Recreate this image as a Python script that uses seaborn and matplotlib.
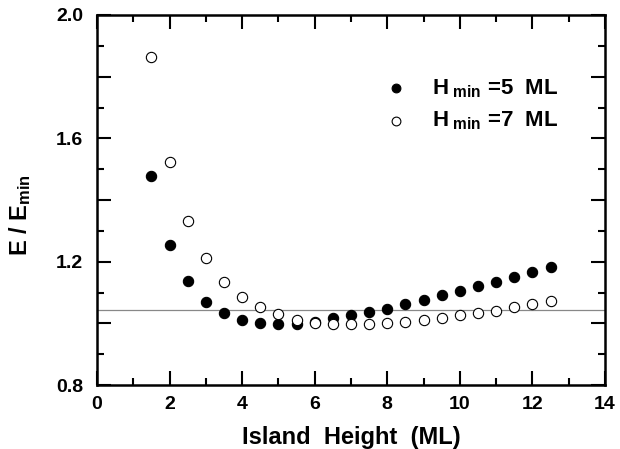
import matplotlib
matplotlib.use("Agg")
import matplotlib.pyplot as plt
import seaborn as sns
import numpy as np
import pandas as pd
from matplotlib.ticker import MultipleLocator, FuncFormatter

# ---- data ----
heights = [1.5, 2.0, 2.5, 3.0, 3.5, 4.0, 4.5, 5.0, 5.5, 6.0, 6.5, 7.0,
           7.5, 8.0, 8.5, 9.0, 9.5, 10.0, 10.5, 11.0, 11.5, 12.0, 12.5]
e_h5 = [1.478, 1.253, 1.136, 1.069, 1.032, 1.011, 1.000, 0.998, 0.998, 1.004,
        1.016, 1.027, 1.036, 1.046, 1.063, 1.076, 1.091, 1.105, 1.121, 1.135,
        1.151, 1.166, 1.182]
e_h7 = [1.865, 1.522, 1.332, 1.213, 1.135, 1.085, 1.052, 1.029, 1.011, 1.002,
        0.998, 0.997, 0.997, 1.000, 1.005, 1.011, 1.018, 1.027, 1.034, 1.041,
        1.054, 1.063, 1.073]
ref_level = 1.043
label_h5 = r"$H_{\ min}$ =5  ML"
label_h7 = r"$H_{\ min}$ =7  ML"
x_label = "Island  Height  (ML)"
y_label = r"E / E$_{min}$"

sns.set_theme(style="ticks")
plt.rcParams['font.family'] = ['Liberation Sans', 'DejaVu Sans']
plt.rcParams['font.weight'] = 'bold'
plt.rcParams['text.color'] = 'black'
plt.rcParams['axes.labelcolor'] = 'black'
plt.rcParams['xtick.color'] = 'black'
plt.rcParams['ytick.color'] = 'black'
plt.rcParams['mathtext.fontset'] = 'custom'
plt.rcParams['mathtext.rm'] = 'Liberation Sans:bold'
plt.rcParams['mathtext.it'] = 'Liberation Sans:bold'
plt.rcParams['mathtext.bf'] = 'Liberation Sans:bold'

df5 = pd.DataFrame({"h": heights, "e": e_h5})
df7 = pd.DataFrame({"h": heights, "e": e_h7})

fig = plt.figure(figsize=(6.2, 4.49), dpi=100)
ax = fig.add_axes([0.1565, 0.1425, 0.8193, 0.8241])

ax.axhline(ref_level, color="#888888", lw=0.9, zorder=1)

sns.scatterplot(data=df5, x="h", y="e", ax=ax, marker="o", s=55,
                color="black", edgecolor="black", linewidth=0.8,
                label=label_h5, zorder=3)
sns.scatterplot(data=df7, x="h", y="e", ax=ax, marker="o", s=55,
                facecolor="white", edgecolor="black", linewidth=0.8,
                label=label_h7, zorder=4)

ax.set_xlim(0, 14)
ax.set_ylim(0.8, 2.0)
ax.xaxis.set_major_locator(MultipleLocator(2))
ax.xaxis.set_minor_locator(MultipleLocator(1))
ax.yaxis.set_major_locator(MultipleLocator(0.2))
ax.yaxis.set_minor_locator(MultipleLocator(0.1))

ax.yaxis.set_major_formatter(FuncFormatter(lambda v, p: f"{v:.1f}" if round(v * 10) % 4 == 0 else ""))
ax.xaxis.set_major_formatter(FuncFormatter(lambda v, p: f"{int(round(v))}"))

ax.tick_params(which="both", direction="in", top=True, right=True,
               width=1.5, colors="black", labelsize=14)
ax.tick_params(which="major", length=10, pad=8)
ax.tick_params(which="minor", length=5)
ax.tick_params(axis="y", which="major", pad=10)
for sp in ax.spines.values():
    sp.set_linewidth(1.8)
    sp.set_color("black")

ax.set_xlabel(x_label, fontsize=17, fontweight="bold", labelpad=9)
ax.set_ylabel(y_label, fontsize=17, fontweight="bold")
ax.yaxis.set_label_coords(-0.127, 0.46)

leg = ax.legend(loc="upper left", bbox_to_anchor=(0.506, 0.886), frameon=False,
                fontsize=16, handletextpad=0.6, labelspacing=0.45,
                markerscale=0.85)

fig.savefig("out.png", dpi=100)
